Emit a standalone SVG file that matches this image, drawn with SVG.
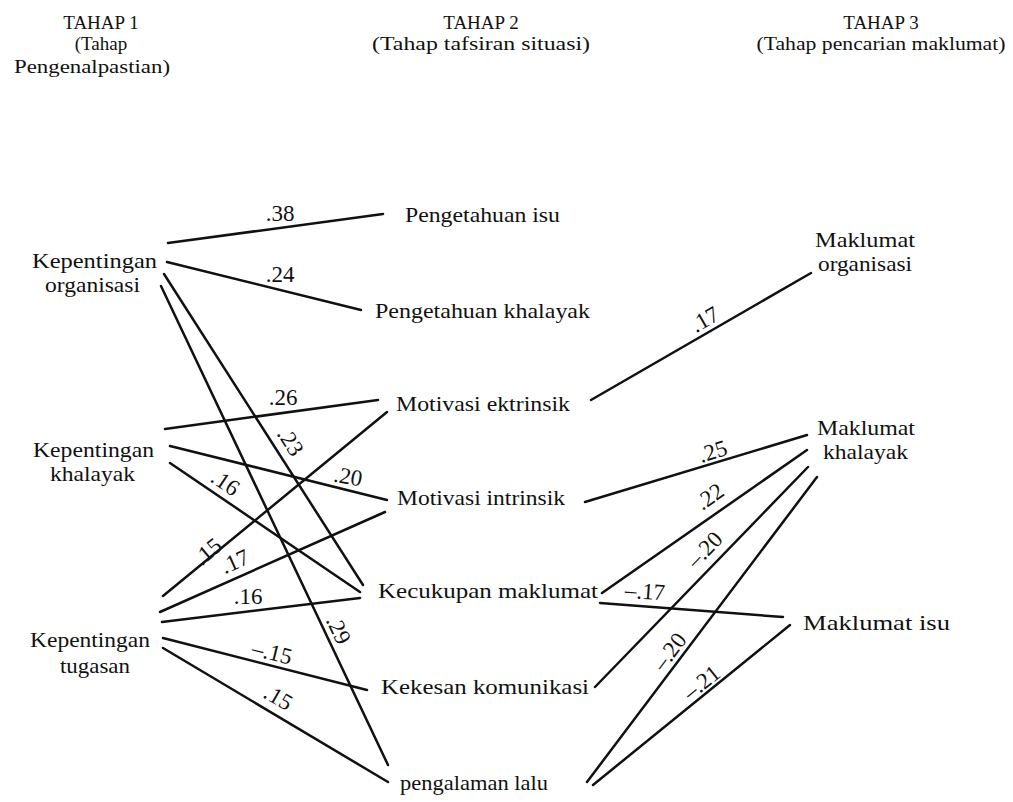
<svg xmlns="http://www.w3.org/2000/svg" width="1013" height="802" viewBox="0 0 1013 802">
<style>
text{font-family:"Liberation Serif","Times New Roman",serif;fill:#111}
.h{font-size:19px;text-anchor:middle}
.n{font-size:22px}
.c{font-size:23px;text-anchor:middle}
#connectors line{stroke:#111;stroke-width:2.5;stroke-linecap:round}
</style>
<rect width="1013" height="802" fill="#fff"/>
<g id="headers">
<text class="h" x="101" y="29">TAHAP 1</text>
<text class="h" x="101" y="50">(Tahap</text>
<text class="h" x="92" y="73" textLength="156" lengthAdjust="spacingAndGlyphs">Pengenalpastian)</text>
<text class="h" x="481" y="29">TAHAP 2</text>
<text class="h" x="481" y="50" textLength="218" lengthAdjust="spacingAndGlyphs">(Tahap tafsiran situasi)</text>
<text class="h" x="881" y="29">TAHAP 3</text>
<text class="h" x="881" y="50" textLength="249" lengthAdjust="spacingAndGlyphs">(Tahap pencarian maklumat)</text>
</g>
<g id="connectors">
<line x1="168" y1="243" x2="383" y2="214"/>
<line x1="167" y1="262" x2="361" y2="310"/>
<line x1="164" y1="274" x2="363" y2="585"/>
<line x1="161" y1="286" x2="388" y2="765"/>
<line x1="165" y1="429" x2="378" y2="400"/>
<line x1="170" y1="446" x2="387" y2="500"/>
<line x1="170" y1="463" x2="360" y2="592"/>
<line x1="163" y1="596" x2="387" y2="412"/>
<line x1="160" y1="612" x2="385" y2="512"/>
<line x1="162" y1="622" x2="360" y2="598"/>
<line x1="163" y1="638" x2="367" y2="690"/>
<line x1="163" y1="648" x2="388" y2="782"/>
<line x1="591" y1="400" x2="811" y2="273"/>
<line x1="585" y1="502" x2="807" y2="435"/>
<line x1="602" y1="593" x2="807" y2="450"/>
<line x1="595" y1="687" x2="808" y2="467"/>
<line x1="600" y1="603" x2="783" y2="617"/>
<line x1="587" y1="782" x2="817" y2="477"/>
<line x1="593" y1="785" x2="790" y2="625"/>
</g>
<g id="coefficients">
<text class="c" x="280" y="221">.38</text>
<text class="c" x="280" y="282">.24</text>
<text class="c" transform="translate(290,442) rotate(57)" y="7">.23</text>
<text class="c" transform="translate(338,630) rotate(64)" y="7">.29</text>
<text class="c" x="283" y="405">.26</text>
<text class="c" transform="translate(348,477) rotate(10)" y="7">.20</text>
<text class="c" transform="translate(225,483) rotate(34)" y="7">.16</text>
<text class="c" transform="translate(208,552) rotate(-40)" y="7">.15</text>
<text class="c" transform="translate(235,562) rotate(-24)" y="7">.17</text>
<text class="c" x="248" y="604">.16</text>
<text class="c" transform="translate(272,653) rotate(14)" y="7">–.15</text>
<text class="c" transform="translate(278,698) rotate(30)" y="7">.15</text>
<text class="c" transform="translate(705,320) rotate(-30)" y="7">.17</text>
<text class="c" transform="translate(713,452) rotate(-17)" y="7">.25</text>
<text class="c" transform="translate(710,497) rotate(-35)" y="7">.22</text>
<text class="c" transform="translate(705,550) rotate(-46)" y="7">–.20</text>
<text class="c" transform="translate(645,592) rotate(4)" y="7">–.17</text>
<text class="c" transform="translate(670,652) rotate(-53)" y="7">–.20</text>
<text class="c" transform="translate(702,683) rotate(-39)" y="7">–.21</text>
</g>
<g id="kepentingan-organisasi">
<text class="n" x="32" y="268" textLength="125" lengthAdjust="spacingAndGlyphs">Kepentingan</text>
<text class="n" x="45" y="292" textLength="95" lengthAdjust="spacingAndGlyphs">organisasi</text>
</g>
<g id="kepentingan-khalayak">
<text class="n" x="33" y="457" textLength="121" lengthAdjust="spacingAndGlyphs">Kepentingan</text>
<text class="n" x="50" y="481" textLength="85" lengthAdjust="spacingAndGlyphs">khalayak</text>
</g>
<g id="kepentingan-tugasan">
<text class="n" x="30" y="647" textLength="120" lengthAdjust="spacingAndGlyphs">Kepentingan</text>
<text class="n" x="60" y="673" textLength="70" lengthAdjust="spacingAndGlyphs">tugasan</text>
</g>
<g id="pengetahuan-isu"><text class="n" x="405" y="222" textLength="155" lengthAdjust="spacingAndGlyphs">Pengetahuan isu</text></g>
<g id="pengetahuan-khalayak"><text class="n" x="375" y="318" textLength="215" lengthAdjust="spacingAndGlyphs">Pengetahuan khalayak</text></g>
<g id="motivasi-ektrinsik"><text class="n" x="396" y="411" textLength="174" lengthAdjust="spacingAndGlyphs">Motivasi ektrinsik</text></g>
<g id="motivasi-intrinsik"><text class="n" x="397" y="505" textLength="168" lengthAdjust="spacingAndGlyphs">Motivasi intrinsik</text></g>
<g id="kecukupan-maklumat"><text class="n" x="378" y="598" textLength="220" lengthAdjust="spacingAndGlyphs">Kecukupan maklumat</text></g>
<g id="kekesan-komunikasi"><text class="n" x="381" y="694" textLength="208" lengthAdjust="spacingAndGlyphs">Kekesan komunikasi</text></g>
<g id="pengalaman-lalu"><text class="n" x="400" y="790" textLength="148" lengthAdjust="spacingAndGlyphs">pengalaman lalu</text></g>
<g id="maklumat-organisasi">
<text class="n" x="815" y="247" textLength="100" lengthAdjust="spacingAndGlyphs">Maklumat</text>
<text class="n" x="818" y="271" textLength="94" lengthAdjust="spacingAndGlyphs">organisasi</text>
</g>
<g id="maklumat-khalayak">
<text class="n" x="817" y="435" textLength="98" lengthAdjust="spacingAndGlyphs">Maklumat</text>
<text class="n" x="823" y="459" textLength="85" lengthAdjust="spacingAndGlyphs">khalayak</text>
</g>
<g id="maklumat-isu"><text class="n" x="803" y="630" textLength="147" lengthAdjust="spacingAndGlyphs">Maklumat isu</text></g>
</svg>
